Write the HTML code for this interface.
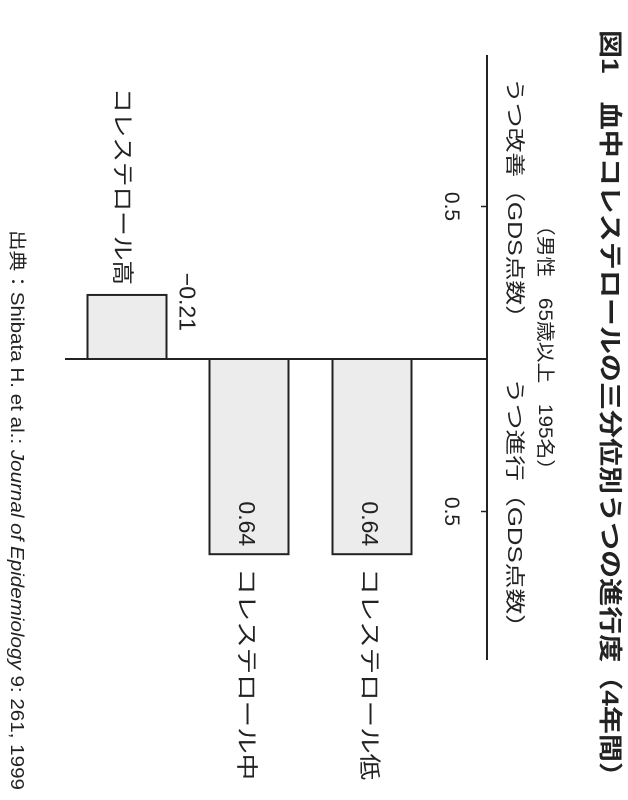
<!DOCTYPE html>
<html><head><meta charset="utf-8"><style>
html,body{margin:0;padding:0;background:#fff;width:628px;height:800px;overflow:hidden}
#wrap{position:absolute;left:0;top:0;width:800px;height:628px;transform-origin:0 0;transform:translate(628px,0) rotate(90deg)}
text{font-family:"Liberation Sans","Noto Sans CJK JP",sans-serif;fill:#222}
</style></head><body>
<div id="wrap">
<svg id="chart" width="800" height="628">
<text x="30" y="26" font-size="24" font-weight="bold" textLength="760" lengthAdjust="spacingAndGlyphs">図1　血中コレステロールの三分位別うつの進行度（4年間）</text>
<text x="215" y="89" font-size="19" textLength="265" lengthAdjust="spacingAndGlyphs">（男性　65歳以上　195名）</text>
<text x="78" y="120" font-size="20" textLength="252" lengthAdjust="spacingAndGlyphs">うつ改善（GDS点数）</text>
<text x="378" y="120" font-size="20" textLength="262" lengthAdjust="spacingAndGlyphs">うつ進行（GDS点数）</text>
<text x="230" y="617" font-size="18" textLength="560" lengthAdjust="spacingAndGlyphs">出典：Shibata H. et al.: <tspan font-style="italic">Journal of Epidemiology</tspan> 9: 261, 1999</text>
<g id="plot"></g>
</svg></div>
<script>
const categories=["コレステロール高","コレステロール中","コレステロール低"];
const values=[-0.21,0.64,0.64];
const valueLabels=["−0.21","0.64","0.64"];
const tickValues=[-0.5,0.5];
const tickLabels=["0.5","0.5"];
const NS="http://www.w3.org/2000/svg";
const g=document.getElementById('plot');
const zeroU=359, scale=305;
const uOf=v=>zeroU+v*scale;
const bandV=[501,379,256]; const bw=79;
function mk(t,a){const e=document.createElementNS(NS,t);for(const k in a)e.setAttribute(k,a[k]);g.appendChild(e);return e;}
let ax=mk('line',{x1:55,y1:141,x2:660,y2:141,stroke:'#222','stroke-width':2});


let bl=mk('line',{x1:zeroU,y1:141,x2:zeroU,y2:563,stroke:'#222','stroke-width':2});


tickValues.forEach((t,i)=>{
 const u=uOf(t);
 let l=mk('line',{x1:u,y1:141,x2:u,y2:147,stroke:'#222','stroke-width':1.5});
 
 
 let tx=mk('text',{x:u,y:183,'font-size':21,'text-anchor':'middle'});
 tx.textContent=tickLabels[i];
 
 
});
categories.forEach((c,i)=>{
 const v=values[i];const u0=Math.min(uOf(0),uOf(v)),u1=Math.max(uOf(0),uOf(v));
 const c0=bandV[i]-bw/2;
 let r=mk('rect',{x:u0,y:c0,width:u1-u0,height:bw,fill:'#ececec',stroke:'#222','stroke-width':2});
 
 
 let vl,cl;
 if(v<0){
  vl=mk('text',{x:u1-28,y:c0-13,'font-size':23,'text-anchor':'end'});
  cl=mk('text',{x:285,y:bandV[i]+12,'font-size':22,'text-anchor':'end',textLength:197,lengthAdjust:'spacingAndGlyphs'});
 }else{
  vl=mk('text',{x:u1-8,y:bandV[i]+10,'font-size':23,'text-anchor':'end'});
  cl=mk('text',{x:u1+14,y:bandV[i]+10,'font-size':22,textLength:212,lengthAdjust:'spacingAndGlyphs'});
 }
 vl.textContent=valueLabels[i];
 
 
 cl.textContent=c;
 
 
});
</script>
</body></html>
